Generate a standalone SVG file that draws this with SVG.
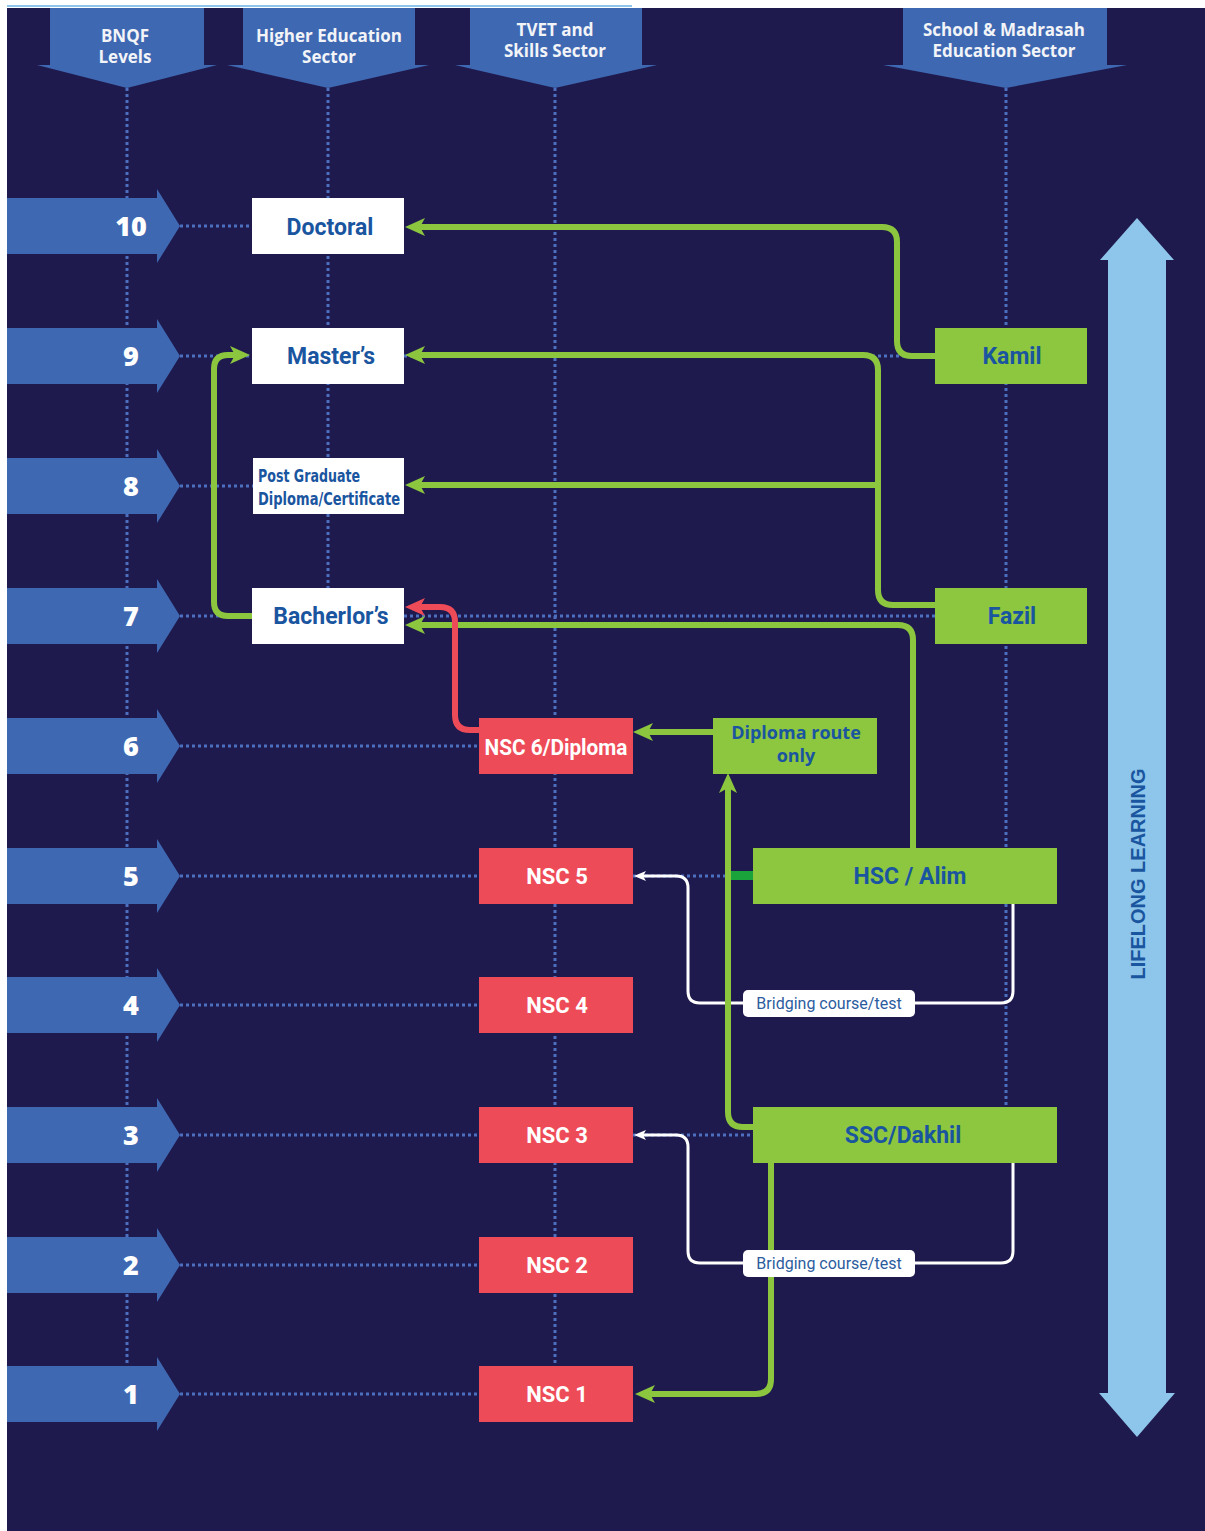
<svg xmlns="http://www.w3.org/2000/svg" width="1205" height="1531" viewBox="0 0 1205 1531">
<style>
.bg{fill:#1f1a4e}
.hdr{fill:#3f68b2}
.hdrt{font-family:"Open Sans","Liberation Sans",sans-serif;font-weight:700;font-size:17px;fill:#f2f4f8;text-anchor:middle}
.lvl{fill:#3f68b2}
.lvlt{font-family:"Open Sans","Liberation Sans",sans-serif;font-weight:800;font-size:27px;fill:#ffffff;text-anchor:middle}
.dot{stroke:#4c6fc0;stroke-width:3;stroke-dasharray:3 3;fill:none}
.wbox{fill:#ffffff}
.gbox{fill:#8dc63f}
.rbox{fill:#ee4b58}
.bt{font-family:Roboto,"Liberation Sans",sans-serif;font-weight:700;font-size:23px;fill:#1a55a0;text-anchor:middle}
.nt{font-family:Roboto,"Liberation Sans",sans-serif;font-weight:700;font-size:22px;fill:#ffffff;text-anchor:middle}
.dt{font-family:"Open Sans","Liberation Sans",sans-serif;font-weight:700;font-size:18px;fill:#1a55a0;text-anchor:middle}
.g{stroke:#8cc63f;stroke-width:6;fill:none;stroke-linejoin:round}
.r{stroke:#ee4b58;stroke-width:6;fill:none;stroke-linejoin:round}
.w{stroke:#ffffff;stroke-width:3;fill:none}
.lbl{fill:#ffffff}
.lblt{font-family:Roboto,"Liberation Sans",sans-serif;font-size:16px;fill:#2c5c9e;text-anchor:middle}
</style>
<defs>
<marker id="ag" markerUnits="userSpaceOnUse" markerWidth="20" markerHeight="18" viewBox="0 0 20 18" refX="6" refY="9" orient="auto"><path d="M0,0 L20,9 L0,18 L5,9 Z" fill="#8cc63f"/></marker>
<marker id="ar" markerUnits="userSpaceOnUse" markerWidth="20" markerHeight="18" viewBox="0 0 20 18" refX="6" refY="9" orient="auto"><path d="M0,0 L20,9 L0,18 L5,9 Z" fill="#ee4b58"/></marker>
<marker id="aw" markerUnits="userSpaceOnUse" markerWidth="12" markerHeight="10" viewBox="0 0 12 10" refX="4" refY="5" orient="auto"><path d="M0,0 L12,5 L0,10 L3,5 Z" fill="#ffffff"/></marker>
</defs>
<rect x="0" y="0" width="1205" height="1531" fill="#ffffff"/>
<rect class="bg" x="7" y="8" width="1198" height="1523"/>
<rect x="7" y="5" width="625" height="2" fill="#8ec5ea"/>

<g id="grid">
<path class="dot" d="M127,88 V1366 M328,88 V588 M555,88 V1366 M1006,88 V1107"/>
<path class="dot" d="M180,226 H252 M180,356 H252 M404,356 H935 M180,486 H253 M180,616 H252 M404,616 H935 M180,746 H479 M180,876 H479 M633,876 H753 M180,1005 H479 M180,1135 H479 M633,1135 H753 M180,1265 H479 M180,1394 H479"/>
</g>

<g id="headers">
<g id="h-bnqf"><polygon class="hdr" points="50,8 204,8 204,65 217,65 127,88 37,65 50,65"/><text class="hdrt" x="125" y="42">BNQF</text><text class="hdrt" x="125" y="63">Levels</text></g>
<g id="h-higher"><polygon class="hdr" points="243,8 415,8 415,65 429,65 328,88 227,65 243,65"/><text class="hdrt" x="329" y="42">Higher Education</text><text class="hdrt" x="329" y="63">Sector</text></g>
<g id="h-tvet"><polygon class="hdr" points="470,8 642,8 642,65 657,65 555,88 455,65 470,65"/><text class="hdrt" x="555" y="36">TVET and</text><text class="hdrt" x="555" y="57">Skills Sector</text></g>
<g id="h-school"><polygon class="hdr" points="903,8 1107,8 1107,65 1127,65 1006,88 883,65 903,65"/><text class="hdrt" x="1004" y="36">School &amp; Madrasah</text><text class="hdrt" x="1004" y="57">Education Sector</text></g>
</g>

<g id="levels">
<g id="lvl10"><polygon class="lvl" points="7,198 157,198 157,189 180,226 157,263 157,254 7,254"/><text class="lvlt" x="131" y="236">10</text></g>
<g id="lvl9"><polygon class="lvl" points="7,328 157,328 157,319 180,356 157,393 157,384 7,384"/><text class="lvlt" x="131" y="366">9</text></g>
<g id="lvl8"><polygon class="lvl" points="7,458 157,458 157,449 180,486 157,523 157,514 7,514"/><text class="lvlt" x="131" y="496">8</text></g>
<g id="lvl7"><polygon class="lvl" points="7,588 157,588 157,579 180,616 157,653 157,644 7,644"/><text class="lvlt" x="131" y="626">7</text></g>
<g id="lvl6"><polygon class="lvl" points="7,718 157,718 157,709 180,746 157,783 157,774 7,774"/><text class="lvlt" x="131" y="756">6</text></g>
<g id="lvl5"><polygon class="lvl" points="7,848 157,848 157,839 180,876 157,913 157,904 7,904"/><text class="lvlt" x="131" y="886">5</text></g>
<g id="lvl4"><polygon class="lvl" points="7,977 157,977 157,968 180,1005 157,1042 157,1033 7,1033"/><text class="lvlt" x="131" y="1015">4</text></g>
<g id="lvl3"><polygon class="lvl" points="7,1107 157,1107 157,1098 180,1135 157,1172 157,1163 7,1163"/><text class="lvlt" x="131" y="1145">3</text></g>
<g id="lvl2"><polygon class="lvl" points="7,1237 157,1237 157,1228 180,1265 157,1302 157,1293 7,1293"/><text class="lvlt" x="131" y="1275">2</text></g>
<g id="lvl1"><polygon class="lvl" points="7,1366 157,1366 157,1357 180,1394 157,1431 157,1422 7,1422"/><text class="lvlt" x="131" y="1404">1</text></g>
</g>

<g id="lifelong">
<polygon fill="#8ec5ea" points="1137,218 1174,260 1166,260 1166,1393 1175,1393 1137,1437 1099,1393 1108,1393 1108,260 1100,260"/>
<text transform="translate(1145,874) rotate(-90)" font-family="'Liberation Sans',Arial,sans-serif" font-weight="700" font-size="20" fill="#1a55a0" text-anchor="middle">LIFELONG LEARNING</text>
</g>

<g id="connectors">
<path class="w" marker-end="url(#aw)" d="M1013,904 V991 Q1013,1003 1001,1003 H700 Q688,1003 688,991 V888 Q688,876 676,876 H642"/>
<path class="w" marker-end="url(#aw)" d="M1013,1163 V1251 Q1013,1263 1001,1263 H700 Q688,1263 688,1251 V1147 Q688,1135 676,1135 H642"/>
<path class="g" marker-end="url(#ag)" d="M935,356 H912 Q897,356 897,341 V242 Q897,227 882,227 H419"/>
<path class="g" marker-end="url(#ag)" d="M935,605 H893 Q878,605 878,590 V370 Q878,355 863,355 H419"/>
<path class="g" marker-end="url(#ag)" d="M878,485 H419"/>
<path class="g" marker-end="url(#ag)" d="M913,848 V640 Q913,625 898,625 H419"/>
<path class="g" marker-end="url(#ag)" d="M252,616 H228 Q214,616 214,602 V369 Q214,355 228,355 H236"/>
<path class="r" marker-end="url(#ar)" d="M479,730 H470 Q455,730 455,715 V622 Q455,607 440,607 H419"/>
<path class="g" marker-end="url(#ag)" d="M713,732 H647"/>
<path class="g" marker-end="url(#ag)" d="M753,1127 H743 Q728,1127 728,1112 V787"/>
<path class="g" marker-end="url(#ag)" d="M771,1163 V1379 Q771,1394 756,1394 H649"/>
<rect x="731" y="871" width="22" height="9" fill="#1aa33a"/>
<g id="bridge5"><rect class="lbl" x="743" y="990" width="172" height="27" rx="5"/><text class="lblt" x="829" y="1009">Bridging course/test</text></g>
<g id="bridge3"><rect class="lbl" x="743" y="1250" width="172" height="27" rx="5"/><text class="lblt" x="829" y="1269">Bridging course/test</text></g>
</g>

<g id="doctoral"><rect class="wbox" x="252" y="198" width="152" height="56"/><text class="bt" x="330" y="235">Doctoral</text></g>
<g id="masters"><rect class="wbox" x="252" y="328" width="152" height="56"/><text class="bt" x="331" y="364">Master’s</text></g>
<g id="pgd"><rect class="wbox" x="253" y="458" width="151" height="56"/><text x="258" y="482" font-family="'DejaVu Sans Condensed','DejaVu Sans',sans-serif" font-weight="700" font-size="17" fill="#1a55a0" textLength="102" lengthAdjust="spacingAndGlyphs">Post Graduate</text><text x="258" y="505" font-family="'DejaVu Sans Condensed','DejaVu Sans',sans-serif" font-weight="700" font-size="17" fill="#1a55a0" textLength="142" lengthAdjust="spacingAndGlyphs">Diploma/Certificate</text></g>
<g id="bachelors"><rect class="wbox" x="252" y="588" width="152" height="56"/><text class="bt" x="331" y="624" font-size="24">Bacherlor’s</text></g>
<g id="nsc6"><rect class="rbox" x="479" y="718" width="154" height="56"/><text class="nt" x="556" y="755" textLength="143" lengthAdjust="spacingAndGlyphs">NSC 6/Diploma</text></g>
<g id="nsc5"><rect class="rbox" x="479" y="848" width="154" height="56"/><text class="nt" x="557" y="884">NSC 5</text></g>
<g id="nsc4"><rect class="rbox" x="479" y="977" width="154" height="56"/><text class="nt" x="557" y="1013">NSC 4</text></g>
<g id="nsc3"><rect class="rbox" x="479" y="1107" width="154" height="56"/><text class="nt" x="557" y="1143">NSC 3</text></g>
<g id="nsc2"><rect class="rbox" x="479" y="1237" width="154" height="56"/><text class="nt" x="557" y="1273">NSC 2</text></g>
<g id="nsc1"><rect class="rbox" x="479" y="1366" width="154" height="56"/><text class="nt" x="557" y="1402">NSC 1</text></g>
<g id="diploma-route"><rect class="gbox" x="713" y="718" width="164" height="56"/><text class="dt" x="796" y="739">Diploma route</text><text class="dt" x="796" y="762">only</text></g>
<g id="kamil"><rect class="gbox" x="935" y="328" width="152" height="56"/><text class="bt" x="1012" y="364">Kamil</text></g>
<g id="fazil"><rect class="gbox" x="935" y="588" width="152" height="56"/><text class="bt" x="1012" y="624">Fazil</text></g>
<g id="hsc"><rect class="gbox" x="753" y="848" width="304" height="56"/><text class="bt" x="910" y="884">HSC / Alim</text></g>
<g id="ssc"><rect class="gbox" x="753" y="1107" width="304" height="56"/><text class="bt" x="903" y="1143">SSC/Dakhil</text></g>
</svg>
